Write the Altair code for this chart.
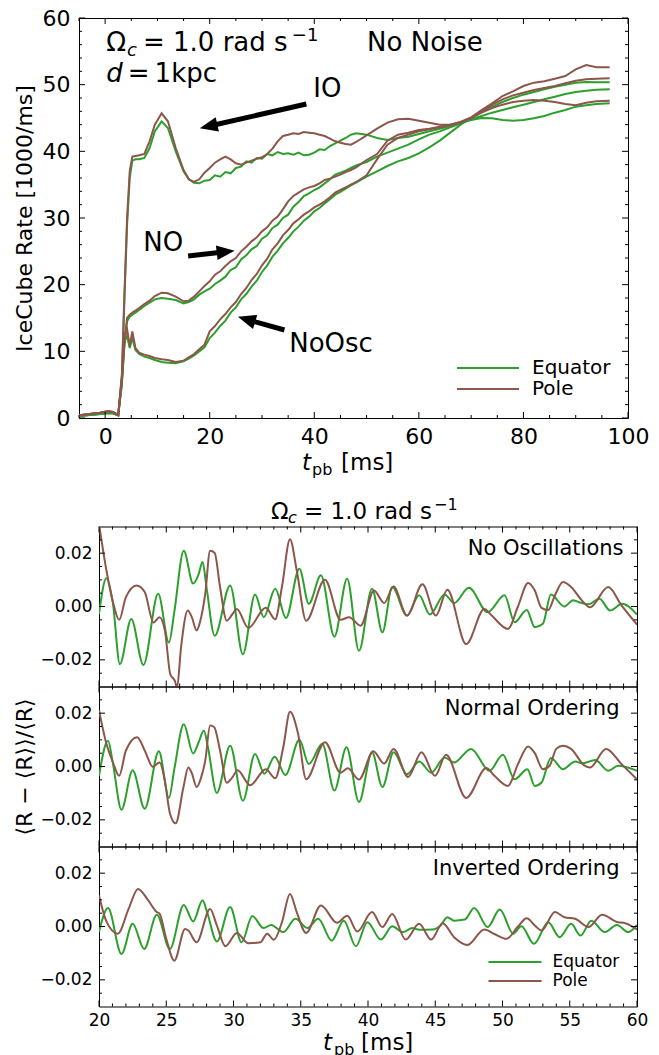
import altair as alt
import pandas as pd

FONT = "DejaVu Sans"
GREEN = "#2ca02c"
BROWN = "#8c564b"
orientations = ["Equator", "Pole"]

# ---------------- top panel data ----------------
t_top = [-5, -3, -1, 0.5, 1.5, 2.5,
         3.2, 3.7, 4.2, 4.7, 5.2, 5.8, 6.5, 7.5, 8.5, 9.5, 10.8, 12, 13.5, 15, 16, 17, 18, 19,
         20, 21, 22, 23, 24, 25, 26, 27, 28, 29, 30, 31, 32, 33, 34, 35, 36, 37, 38, 39, 40,
         41, 42, 43, 44, 45, 46, 47, 48,
         50, 52, 54, 56, 58, 60, 62, 64, 66, 68, 70, 72, 74, 76, 78, 80, 82, 84, 86, 88, 90, 92, 94,
         96.5]

io_eq = [0.3, 0.45, 0.6, 0.75, 0.7, 0.4,
         6, 18, 29, 36, 38.6, 38.8, 38.8, 39.0, 40.5, 43.0, 44.5, 43.5, 40.0, 37.0, 35.8, 35.3, 35.2, 35.6,
         35.7, 36.4, 36.2, 36.9, 36.7, 37.5, 37.7, 38.5, 38.3, 39.0, 38.9, 39.6, 39.4, 39.9, 39.6, 39.7,
         39.5, 39.8, 39.4, 39.5, 39.8, 40.3, 40.2, 40.8, 41.2, 41.6, 42.0, 42.5, 42.7,
         42.5, 42.0, 41.7, 42.0, 42.2, 42.6, 43.0, 43.4, 43.8, 44.3, 44.7, 45.0, 44.95, 44.7, 44.6, 44.7,
         44.95, 45.3, 45.8, 46.2, 46.7, 46.9, 47.1,
         47.2]
io_pole = [0.4, 0.6, 0.8, 1.0, 0.9, 0.45,
           6.5, 19, 30, 37, 39.2, 39.3, 39.4, 39.6, 41.5, 44.0, 45.7, 44.5, 40.5, 37.2, 35.8, 35.4, 35.8, 36.8,
           37.5, 38.3, 38.8, 39.2, 38.8, 38.2, 38.0, 38.3, 38.6, 38.9, 39.1, 39.6, 40.4, 41.5, 42.3, 42.5,
           42.7, 42.6, 42.9, 42.8, 42.7, 42.5, 42.3, 41.9, 41.5, 41.3, 41.1, 41.0, 41.4,
           42.4, 43.4, 44.3, 44.8, 44.9, 44.6, 44.3, 44.0, 44.0, 44.4, 45.0, 45.8, 46.5, 47.0, 47.4, 47.6,
           47.7, 47.6, 47.4, 47.1, 46.9, 47.3, 47.5,
           47.6]
no_eq = [0.3, 0.45, 0.6, 0.75, 0.7, 0.4,
         5.5, 11, 14.5, 15.2, 15.5, 15.8, 16.2, 16.8, 17.3, 17.8, 18.0, 17.9, 17.7, 17.2, 17.4, 17.8, 18.5, 19.0,
         19.4, 20.1, 20.6, 21.2, 22.2, 22.6, 23.8, 24.4, 25.3, 25.8, 26.9, 27.4, 28.5, 29.0, 30.0, 30.5,
         31.7, 32.4, 33.3, 33.7, 34.2, 34.6, 35.2, 35.8, 36.5, 36.8, 37.1, 37.5, 37.9,
         38.4, 39.2, 39.8, 40.4, 41.0, 41.8, 42.5, 43.0, 43.6, 44.2, 44.8, 45.3, 45.8, 46.2, 46.6, 47.0,
         47.4, 47.8, 48.2, 48.6, 48.9, 49.1, 49.25,
         49.3]
no_pole = [0.4, 0.6, 0.8, 1.0, 0.9, 0.45,
           6, 11.5, 15, 15.5, 15.8, 16.1, 16.5, 17.1, 17.6, 18.3, 18.8, 18.7, 18.2, 17.5, 17.6, 18.2, 19.0, 19.8,
           20.5, 21.5, 22.0, 22.8, 23.5, 24.0, 25.0, 25.7, 26.5, 27.1, 28.0, 28.6, 29.6, 30.2, 31.3, 32.5,
           33.3, 33.8, 34.3, 34.6, 34.8, 35.2, 35.7, 35.9, 36.2, 36.5, 36.9, 37.2, 37.6,
           38.7, 39.6, 41.6, 42.5, 42.8, 43.2, 43.4, 43.7, 43.9, 44.3, 45.0, 46.0, 47.0, 47.8, 48.4, 48.8,
           49.2, 49.5, 49.8, 50.2, 50.6, 50.8, 50.9,
           50.95]
noosc_eq = [0.3, 0.45, 0.6, 0.75, 0.7, 0.4,
            5, 11.5, 12.3, 10.5, 12.0, 10.2, 9.6, 9.2, 9.0, 8.7, 8.4, 8.3, 8.2, 8.5, 8.9, 9.4, 10.0, 10.6,
            12.0, 12.8, 13.8, 14.6, 15.8, 16.6, 17.8, 18.6, 19.7, 20.6, 21.9, 22.9, 24.2, 25.1, 26.2, 27.0,
            28.0, 28.7, 29.6, 30.2, 31.0, 31.5, 32.2, 32.8, 33.5, 33.9, 34.4, 34.9, 35.3,
            36.2, 37.0, 37.8, 38.5, 39.0, 39.7, 40.6, 41.6, 42.8, 44.0, 45.0, 45.9, 46.7, 47.4, 48.0, 48.5,
            48.9, 49.3, 49.7, 50.0, 50.3, 50.4, 50.35,
            50.35]
noosc_pole = [0.4, 0.6, 0.8, 1.0, 0.9, 0.45,
              5.5, 12.5, 13.3, 10.8, 13.0, 10.5, 9.8, 9.5, 9.3, 9.0, 8.8, 8.7, 8.4, 8.6, 9.1, 9.6, 10.3, 11.0,
              13.0, 13.8, 14.8, 15.6, 16.6, 17.4, 18.6, 19.5, 20.7, 21.6, 22.9, 23.9, 25.3, 26.2, 27.4, 28.2,
              29.2, 29.8, 30.5, 31.0, 31.6, 32.0, 32.5, 33.1, 33.8, 34.2, 34.6, 35.0, 35.4,
              36.4, 38.8, 41.0, 42.0, 42.5, 43.0, 43.3, 43.6, 44.0, 44.4, 45.1, 46.2, 47.2, 48.3, 49.0, 49.8,
              50.3, 50.5, 50.9, 51.3, 52.3, 52.95, 52.6,
              52.6]

top_x_labels = [0, 20, 40, 60, 80, 100]
top_y_labels = [0, 10, 20, 30, 40, 50, 60]
top_x_minor = [v for v in range(-5, 101, 5) if v % 20 != 0]
top_y_minor = [v for v in range(0, 61, 2) if v % 10 != 0]

# annotations of the top panel (data coordinates)
top_notes = [("Ω", 0.2, 55.0, 26), ("= 1.0 rad s", 7.24, 55.0, 26), ("−1", 35.7, 56.6, 18),
             ("No Noise", 50.1, 55.0, 26),
             ("=\u20091kpc", 4.3, 50.4, 26), ("IO", 39.8, 48.1, 26), ("NO", 7.3, 25.0, 26),
             ("NoOsc", 35.2, 9.95, 26)]
top_notes_italic = [("c", 4.2, 54.3, 18), ("d", 0.2, 50.4, 26)]
# arrows: tail t, tail v, head t, head v, heading (deg)
arrows = [(38.48, 47.1, 20.19, 43.83, 257.2),
          (15.87, 24.3, 22.63, 24.9, 83.5),
          (34.29, 13.2, 27.45, 14.7, 287.0)]

# ---------------- lower panels data ----------------
p1_eq = [(20, -0.0028), (20.55, 0.0106), (21.04, 0.001), (21.55, -0.0216), (22.4, -0.0047), (23.3, -0.0219),
         (24.4, 0.0048), (25.2, -0.0135), (25.6, -0.002), (26.3, 0.0209), (27.0, 0.0086), (27.4, 0.012),
         (27.7, 0.0167), (28.0, 0.007), (28.6, -0.011), (29.75, 0.0079), (30.7, -0.0179), (31.6, 0.0045),
         (32.25, -0.004), (33.1, 0.0067), (33.9, -0.0043), (34.9, 0.0142), (35.6, 0.001), (36.5, 0.0117),
         (37.5, -0.0113), (38.45, 0.0104), (39.33, -0.0166), (40.3, 0.0067), (41.07, -0.0097), (41.8, 0.0073),
         (42.9, -0.0034), (43.8, 0.0042), (44.6, -0.003), (45.7, 0.0045), (46.4, 0.0013), (47.5, 0.007),
         (48.9, -0.0021), (50.15, 0.0042), (50.9, -0.0059), (51.8, -0.0013), (52.4, -0.0078), (53.0, -0.0065),
         (53.6, 0.0045), (54.6, 0.0), (55.25, 0.0023), (55.6, 0.0018), (56.4, 0.0008), (57.2, 0.0029),
         (58.0, -0.0015), (58.9, 0.001), (60.0, -0.003)]
p1_pole = [(20, 0.031), (20.55, 0.0136), (21.04, 0.0016), (21.5, -0.005), (22.0, 0.0035), (22.8, 0.0079),
           (23.4, 0.0054), (24.05, -0.006), (24.5, -0.004), (24.9, -0.009), (25.3, -0.0254), (25.65, -0.028),
           (25.8, -0.0305), (26.1, -0.0153), (26.6, -0.0015), (26.9, -0.004), (27.26, -0.009), (27.5, -0.006),
           (27.9, 0.0048), (28.26, 0.0209), (28.6, 0.0201), (29.0, 0.0073), (29.5, -0.0053), (29.9, -0.003),
           (30.25, -0.0009), (31.1, -0.008), (32.4, -0.0005), (33.1, -0.0048), (33.6, 0.0073), (34.2, 0.0252),
           (34.7, 0.0136), (35.4, -0.0053), (36.8, 0.01), (37.96, -0.005), (38.6, -0.004), (39.45, -0.0072),
           (40.45, 0.006), (41.2, 0.0013), (41.9, 0.0075), (42.9, -0.0034), (44.05, 0.0083), (45.05, -0.0034),
           (45.9, 0.0063), (47.3, -0.0141), (48.65, -0.0009), (49.2, -0.0034), (50.4, -0.0084), (51.15, 0.0),
           (51.9, 0.0088), (52.4, 0.006), (52.9, -0.0005), (53.4, -0.0013), (53.9, 0.0042), (54.5, 0.0092),
           (55.1, 0.0073), (55.9, 0.0023), (56.5, -0.0003), (57.86, 0.0073), (58.85, 0.0004), (60.0, -0.0068)]
p2_eq = [(20, -0.0035), (20.67, 0.0097), (21.04, 0.001), (21.67, -0.0162), (22.5, -0.0014), (23.4, -0.0158),
         (24.45, 0.0057), (25.2, -0.0118), (25.6, -0.001), (26.3, 0.0158), (27.0, 0.0049), (27.4, 0.009),
         (27.8, 0.0135), (28.1, 0.0072), (28.76, -0.0099), (29.75, 0.0078), (30.7, -0.0128), (31.6, 0.0047),
         (32.3, -0.0027), (33.06, 0.0037), (33.86, -0.0032), (34.9, 0.01), (35.6, 0.0009), (36.6, 0.0085),
         (37.5, -0.009), (38.4, 0.0072), (39.33, -0.0133), (40.3, 0.0053), (41.07, -0.0077), (41.9, 0.0053),
         (42.9, -0.0029), (43.8, 0.0019), (44.7, -0.0023), (45.7, 0.0034), (46.4, 0.0015), (47.66, 0.0066),
         (49.03, -0.0016), (50.03, 0.0044), (50.9, -0.0048), (51.85, -0.001), (52.4, -0.0073), (52.9, -0.006),
         (53.6, 0.0032), (54.5, -0.001), (55.4, 0.0019), (55.9, 0.0012), (56.9, 0.0024), (57.86, -0.0016),
         (58.6, 0.0003), (60.0, -0.0016)]
p2_pole = [(20, 0.0211), (20.55, 0.0085), (21.04, 0.0015), (21.5, -0.0035), (22.0, 0.006), (22.84, 0.011),
           (23.4, 0.006), (24.0, -0.0001), (24.5, 0.0015), (24.9, -0.0054), (25.27, -0.0175), (25.7, -0.0213),
           (26.27, -0.008), (26.64, -0.0004), (26.9, -0.0025), (27.26, -0.0077), (27.6, -0.004), (27.9, 0.0022),
           (28.26, 0.0154), (28.56, 0.0148), (29.0, 0.006), (29.5, -0.0061), (29.9, -0.0042), (30.3, -0.0014),
           (31.24, -0.007), (32.4, -0.001), (33.1, -0.0044), (33.7, 0.0072), (34.2, 0.0205), (34.8, 0.0123),
           (35.4, -0.0048), (36.8, 0.0091), (37.96, -0.0023), (38.5, -0.0007), (39.33, -0.0049), (40.4, 0.0057),
           (41.2, 0.0011), (41.9, 0.0066), (42.98, -0.0039), (43.98, 0.0053), (44.98, -0.0035), (45.8, 0.0044),
           (47.3, -0.0118), (48.8, -0.0006), (49.4, -0.0035), (50.4, -0.0073), (51.15, 0.0009), (51.9, 0.0075),
           (52.4, 0.005), (53.0, -0.001), (53.5, 0.0003), (54.0, 0.0066), (54.5, 0.0078), (55.1, 0.0066),
           (56.1, 0.0003), (56.5, -0.0004), (57.7, 0.0066), (58.85, 0.0009), (60.0, -0.0048)]
p3_eq = [(20, -0.0021), (20.67, 0.0069), (21.67, -0.0103), (22.5, 0.001), (23.36, -0.0084), (24.3, 0.0044),
         (25.27, -0.0084), (26.3, 0.0081), (27.0, 0.0019), (27.7, 0.0098), (28.0, 0.006), (28.76, -0.0056),
         (29.75, 0.0073), (30.6, -0.0059), (31.4, 0.0039), (32.24, -0.0006), (32.8, 0.0006), (33.7, -0.0021),
         (34.6, 0.0029), (35.5, -0.0006), (36.3, 0.0029), (37.3, -0.0053), (38.2, 0.0022), (39.1, -0.0074),
         (39.95, 0.0016), (40.95, -0.0049), (41.8, 0.0001), (42.6, -0.0021), (43.3, -0.0006), (43.8, -0.0012),
         (44.8, -0.0011), (45.4, 0.0004), (45.9, 0.0035), (46.4, 0.0022), (47.2, 0.0026), (47.9, 0.0069),
         (48.9, -0.0002), (49.8, 0.0064), (50.8, -0.0027), (51.4, 0.0001), (52.34, -0.0065), (53.4, 0.0016),
         (54.25, -0.004), (55.1, 0.001), (55.8, -0.0034), (56.6, 0.0022), (57.6, -0.0021), (58.5, 0.0006),
         (59.35, -0.0021), (60.0, 0.0006)]
p3_pole = [(20, 0.0116), (20.55, 0.0019), (21.4, -0.0027), (22.2, 0.0066), (22.9, 0.0141), (23.66, 0.0098),
           (24.3, 0.0054), (24.5, 0.0048), (25.0, -0.0046), (25.6, -0.0128), (26.4, -0.0009), (26.64, -0.0015),
           (27.26, -0.0059), (28.26, 0.0066), (28.76, 0.0004), (29.4, -0.0074), (30.25, -0.0024), (31.1, -0.0063),
           (32.0, -0.0059), (32.5, -0.0027), (33.0, -0.005), (33.6, 0.0016), (34.2, 0.0122), (34.7, 0.0054),
           (35.4, -0.0024), (36.5, 0.0079), (37.7, 0.0014), (38.46, 0.004), (39.2, -0.0019), (40.3, 0.0054),
           (41.07, -0.0002), (41.8, 0.0047), (42.8, -0.0049), (43.8, 0.001), (44.7, -0.0049), (45.55, 0.0012),
           (46.4, -0.004), (47.4, -0.0069), (48.65, -0.0011), (49.4, -0.0028), (50.3, -0.0046), (51.15, 0.0),
           (51.8, 0.0031), (52.4, 0.0004), (52.9, -0.0015), (53.9, 0.0054), (54.6, 0.0035), (55.4, 0.0029),
           (56.4, -0.0002), (57.4, 0.0044), (58.6, 0.0016), (59.0, 0.0014), (60.0, -0.0011)]

low_x_labels = [20, 25, 30, 35, 40, 45, 50, 55, 60]
low_y_labels = [-0.02, 0.0, 0.02]
low_x_minor = [v for v in range(20, 61) if v % 5 != 0]
low_y_minor = [-0.025, -0.015, -0.01, -0.005, 0.005, 0.01, 0.015, 0.025]
panel_notes = ["No Oscillations", "Normal Ordering", "Inverted Ordering"]
panel_note_pos = [(59.0, 0.0195), (58.7, 0.0195), (58.7, 0.0195)]

# ---------------- helpers ----------------
W1, H1 = 549, 400
W2, H2 = 538, 160
LOWER_SHIFT = 20  # lower plots start this many pixels right of the top plot
ARROW_HEAD = "M0,-1L0.65,0.6L-0.65,0.6Z"
LEGEND_LINE = "M-4,0H4"
MAJOR, MINOR = 6, 3


def edge_ticks(xscale, yscale, W, H, xmajor, xminor, ymajor, yminor):
    """Inward ticks on all four sides, positioned through the panel's scales."""
    layers = []
    for vals, L in ((xmajor, MAJOR), (xminor, MINOR)):
        base = alt.Chart(alt.Data(values=[{"p": v} for v in vals]))
        layers.append(base.mark_rule(color="black", strokeWidth=1).encode(
            x=alt.X("p:Q", scale=xscale, axis=None), y=alt.value(H), y2=alt.value(H - L)))
        layers.append(base.mark_rule(color="black", strokeWidth=1).encode(
            x=alt.X("p:Q", scale=xscale, axis=None), y=alt.value(0), y2=alt.value(L)))
    for vals, L in ((ymajor, MAJOR), (yminor, MINOR)):
        base = alt.Chart(alt.Data(values=[{"p": v} for v in vals]))
        layers.append(base.mark_rule(color="black", strokeWidth=1).encode(
            y=alt.Y("p:Q", scale=yscale, axis=None), x=alt.value(0), x2=alt.value(L)))
        layers.append(base.mark_rule(color="black", strokeWidth=1).encode(
            y=alt.Y("p:Q", scale=yscale, axis=None), x=alt.value(W), x2=alt.value(W - L)))
    return layers


def pixel_text(txt, x, y, size, italic=False, align="left"):
    return alt.Chart(alt.Data(values=[{"s": txt}])).mark_text(
        align=align, baseline="alphabetic", fontSize=size, font=FONT, color="black",
        fontStyle="italic" if italic else "normal").encode(
        x=alt.value(x), y=alt.value(y), text="s:N")


# ---------------- top panel ----------------
rows = []
for scen, eq, pole in [("IO", io_eq, io_pole), ("NO", no_eq, no_pole), ("NoOsc", noosc_eq, noosc_pole)]:
    for t, v in zip(t_top, eq):
        rows.append({"t": t, "v": v, "orient": "Equator", "scen": scen})
for scen, eq, pole in [("IO", io_eq, io_pole), ("NO", no_eq, no_pole), ("NoOsc", noosc_eq, noosc_pole)]:
    for t, v in zip(t_top, pole):
        rows.append({"t": t, "v": v, "orient": "Pole", "scen": scen})
top_df = pd.DataFrame(rows)

xs1 = alt.Scale(domain=[-5, 100], nice=False, zero=False)
ys1 = alt.Scale(domain=[0, 60], nice=False, zero=False)

top_lines = alt.Chart(top_df).mark_line(strokeWidth=2, clip=True).encode(
    x=alt.X("t:Q", scale=xs1,
            axis=alt.Axis(orient="bottom", values=top_x_labels, ticks=False, domain=False, grid=False,
                          labelFontSize=22, labelPadding=8, labelFlush=False, title=None)),
    y=alt.Y("v:Q", scale=ys1,
            axis=alt.Axis(orient="left", values=top_y_labels, ticks=False, domain=False, grid=False,
                          labelFontSize=22, labelPadding=9, labelFlush=False,
                          title="IceCube Rate [1000/ms]", titleFontSize=22, titleFontWeight="normal",
                          titlePadding=6)),
    color=alt.Color("orient:N", scale=alt.Scale(domain=orientations, range=[GREEN, BROWN]),
                    legend=alt.Legend(orient="none", legendX=377, legendY=340, title=None,
                                      symbolType=LEGEND_LINE, symbolSize=240, symbolStrokeWidth=2,
                                      symbolOffset=22, labelFontSize=20, labelOffset=34,
                                      rowPadding=1, padding=0)),
    detail="scen:N")

notes_df = pd.DataFrame([{"txt": a, "t": b, "v": c, "fs": d} for a, b, c, d in top_notes])
notes_it_df = pd.DataFrame([{"txt": a, "t": b, "v": c, "fs": d} for a, b, c, d in top_notes_italic])
top_text = alt.Chart(notes_df).mark_text(align="left", baseline="alphabetic", color="black").encode(
    x=alt.X("t:Q", scale=xs1, axis=None), y=alt.Y("v:Q", scale=ys1, axis=None), text="txt:N",
    size=alt.Size("fs:Q", scale=None))
top_text_it = alt.Chart(notes_it_df).mark_text(align="left", baseline="alphabetic", color="black",
                                               fontStyle="italic").encode(
    x=alt.X("t:Q", scale=xs1, axis=None), y=alt.Y("v:Q", scale=ys1, axis=None), text="txt:N",
    size=alt.Size("fs:Q", scale=None))

arrow_df = pd.DataFrame([{"t0": a, "v0": b, "t1": c, "v1": d, "ang": e} for a, b, c, d, e in arrows])
shafts = alt.Chart(arrow_df).mark_rule(strokeWidth=5, color="black").encode(
    x=alt.X("t0:Q", scale=xs1, axis=None), y=alt.Y("v0:Q", scale=ys1, axis=None), x2="t1:Q", y2="v1:Q")
heads = alt.Chart(arrow_df).mark_point(shape=ARROW_HEAD, filled=True, size=506, color="black",
                                       opacity=1, strokeWidth=0).encode(
    x=alt.X("t1:Q", scale=xs1, axis=None), y=alt.Y("v1:Q", scale=ys1, axis=None),
    angle=alt.Angle("ang:Q", scale=None))

top_layers = [top_lines, top_text, top_text_it, shafts, heads]
top_layers += edge_ticks(xs1, ys1, W1, H1, top_x_labels, top_x_minor, top_y_labels, top_y_minor)
top_layers += [pixel_text("t", 223, 452, 23, italic=True), pixel_text("pb", 233, 457, 16),
               pixel_text("[ms]", 262, 452, 23)]
top = alt.layer(*top_layers).properties(width=W1, height=H1).resolve_axis(x="independent", y="independent")

# ---------------- lower panels ----------------
xs2 = alt.Scale(domain=[20, 60], nice=False, zero=False)
ys2 = alt.Scale(domain=[-0.03, 0.03], nice=False, zero=False)


def lower_panel(idx, eq, pole):
    df = pd.DataFrame([{"t": t, "v": v, "orient": "Equator"} for t, v in eq] +
                      [{"t": t, "v": v, "orient": "Pole"} for t, v in pole])
    last = idx == 2
    if last:
        legend = alt.Legend(orient="none", legendX=389, legendY=107, title=None,
                            symbolType=LEGEND_LINE, symbolSize=176, symbolStrokeWidth=2,
                            symbolOffset=18.5, labelFontSize=17, labelOffset=29,
                            rowPadding=1, padding=0)
    else:
        legend = None
    ytitle = "⟨R − ⟨R⟩⟩/⟨R⟩" if idx == 1 else None
    lines = alt.Chart(df).mark_line(strokeWidth=2, clip=True, interpolate="monotone").encode(
        x=alt.X("t:Q", scale=xs2,
                axis=alt.Axis(orient="bottom", values=low_x_labels, ticks=False, domain=False, grid=False,
                              labels=last, labelFontSize=17, labelPadding=6, labelFlush=False, title=None)),
        y=alt.Y("v:Q", scale=ys2,
                axis=alt.Axis(orient="left", values=low_y_labels, format=".2f", ticks=False, domain=False,
                              grid=False, labelFontSize=17, labelPadding=7, labelFlush=False,
                              title=ytitle, titleFontSize=22, titleFontWeight="normal", titlePadding=3)),
        color=alt.Color("orient:N", scale=alt.Scale(domain=orientations, range=[GREEN, BROWN]), legend=legend))
    nt, nv = panel_note_pos[idx]
    note = alt.Chart(alt.Data(values=[{"txt": panel_notes[idx], "t": nt, "v": nv}])).mark_text(
        align="right", baseline="alphabetic", fontSize=21, color="black").encode(
        x=alt.X("t:Q", scale=xs2, axis=None), y=alt.Y("v:Q", scale=ys2, axis=None), text="txt:N")
    layers = [lines, note]
    layers += edge_ticks(xs2, ys2, W2, H2, low_x_labels, low_x_minor, low_y_labels, low_y_minor)
    if idx == 0:
        layers += [pixel_text("Ω", 172, -8, 23), pixel_text("c", 189, -4, 16, italic=True),
                   pixel_text("= 1.0 rad s", 205, -8, 23), pixel_text("−1", 335, -17, 16)]
    if last:
        layers += [pixel_text("t", 224, 203, 23, italic=True), pixel_text("pb", 235, 208, 16),
                   pixel_text("[ms]", 262, 203, 23)]
    return alt.layer(*layers).properties(width=W2, height=H2).resolve_axis(x="independent", y="independent")


panels = [lower_panel(0, p1_eq, p1_pole), lower_panel(1, p2_eq, p2_pole), lower_panel(2, p3_eq, p3_pole)]
lower = alt.vconcat(*panels, spacing=0, bounds="flush").resolve_scale(color="independent")

# an empty, frameless spacer pushes the lower block right of the top panel's plot edge
spacer = alt.Chart(alt.Data(values=[{"z": 0}])).mark_point(opacity=0).properties(
    width=LOWER_SHIFT, height=1, view=alt.ViewBackground(strokeOpacity=0))
lower_row = alt.hconcat(spacer, lower, spacing=0, bounds="flush").resolve_scale(color="independent")

chart = alt.vconcat(top, lower_row, spacing=16.5).resolve_scale(color="independent").properties(
    padding={"left": 12, "top": 6, "right": 0, "bottom": 0}
).configure(font=FONT).configure_view(stroke="black", strokeWidth=1).configure_axis(
    labelFont=FONT, titleFont=FONT, labelColor="black", titleColor="black"
).configure_legend(labelFont=FONT, labelColor="black").configure_text(font=FONT)

chart.save("out.html", embed_options={"renderer": "svg", "actions": False})
